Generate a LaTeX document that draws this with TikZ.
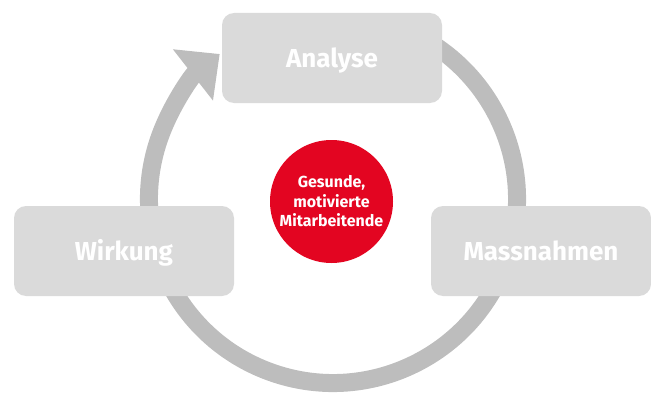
\documentclass[tikz,border=0pt]{standalone}
\usepackage{fontspec}
\setmainfont{Fira Sans}
\usetikzlibrary{arrows.meta}
\definecolor{boxgray}{HTML}{DADADA}
\definecolor{ringgray}{HTML}{BDBDBD}
\definecolor{corered}{HTML}{E30521}
\begin{document}
\begin{tikzpicture}
        [x=1pt, y=1pt,
        step box/.style={rectangle, rounded corners=12pt, fill=boxgray, minimum width=220pt, minimum height=90pt, text height=18pt, text depth=0pt, text=white, font=\fontsize{26}{30}\selectfont\bfseries},
        core/.style={circle, fill=corered, minimum size=123pt, inner sep=0pt, text=white, align=center, font=\fontsize{16}{19.5}\selectfont\bfseries},
        ring/.style={line width=18pt, ringgray, -{Triangle[width=63pt, length=34pt]}}]
        \useasboundingbox (0,0) rectangle (651,392);
        
        % Cycle ring behind the boxes
        \coordinate (M) at (333,193);
        \draw[ring] ([shift={(70:184)}]M) arc[start angle=70, end angle=-232, radius=184];
        
        % Steps of the cycle
        \node[step box] (analyse) at (332,334) {Analyse};
        \node[step box] (massnahmen) at (541,141) {Massnahmen};
        \node[step box] (wirkung) at (124,141) {Wirkung};
        
        % Centre
        \node[core] (ziel) at (331.5,190.5) {Gesunde,\\motivierte\\Mitarbeitende};
        
    \end{tikzpicture}
\end{document}
